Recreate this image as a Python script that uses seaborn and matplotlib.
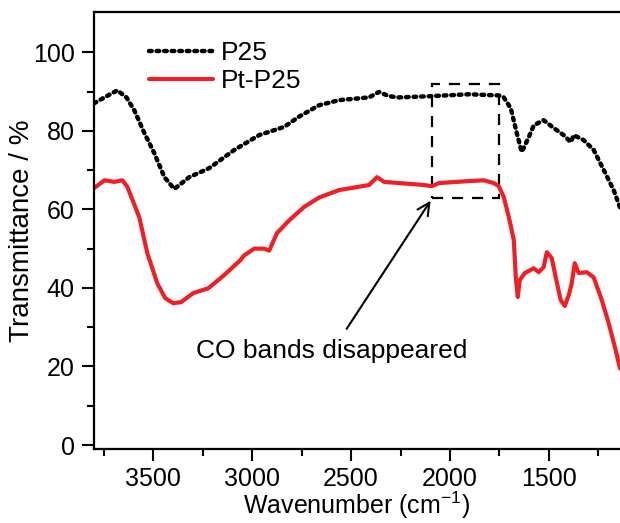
import numpy as np
import pandas as pd
import matplotlib
matplotlib.use("Agg")
import matplotlib.pyplot as plt
import seaborn as sns
from matplotlib.patches import Rectangle

# --- Data ---
p25_wn = [3800, 3747, 3682, 3636, 3596, 3545, 3495, 3444, 3394, 3318, 3217,
          3091, 2965, 2838, 2763, 2662, 2561, 2409, 2359, 2308, 2258, 2106,
          1904, 1753, 1728, 1692, 1662, 1637, 1601, 1576, 1526, 1475, 1425,
          1389, 1374, 1323, 1273, 1222, 1172, 1140]
p25_t = [87.0, 88.5, 90.3, 88.5, 85.2, 79.4, 74.3, 68.2, 65.2, 68.2, 70.5,
         75.1, 78.9, 81.0, 83.6, 86.5, 87.8, 88.5, 89.9, 88.8, 88.5, 88.8,
         89.3, 89.0, 88.5, 85.7, 79.4, 74.6, 78.4, 81.4, 82.7, 80.7, 78.9,
         77.1, 78.9, 77.6, 75.1, 70.0, 64.9, 60.5]

pt_wn = [3800, 3747, 3697, 3656, 3631, 3571, 3530, 3480, 3440, 3399, 3359,
         3298, 3222, 3141, 3061, 3040, 2990, 2940, 2914, 2874, 2813, 2738,
         2662, 2561, 2409, 2369, 2333, 2258, 2131, 2091, 2056, 1904, 1829,
         1778, 1753, 1728, 1702, 1677, 1667, 1657, 1647, 1621, 1576, 1551,
         1526, 1510, 1485, 1465, 1440, 1419, 1399, 1384, 1369, 1349, 1308,
         1273, 1232, 1197, 1162, 1140]
pt_t = [65.4, 67.4, 67.0, 67.4, 65.7, 58.0, 48.8, 41.2, 37.4, 36.1, 36.4,
        38.7, 39.9, 43.3, 47.0, 48.3, 50.0, 50.0, 49.5, 54.0, 57.2, 60.6,
        63.0, 64.9, 66.2, 68.2, 67.0, 66.7, 66.2, 65.9, 66.7, 67.2, 67.4,
        66.7, 65.9, 63.2, 58.0, 52.2, 42.7, 37.7, 42.0, 43.8, 45.0, 44.0,
        45.3, 49.1, 47.6, 42.7, 36.9, 35.4, 38.2, 41.2, 46.3, 43.8, 44.0,
        42.7, 36.9, 31.0, 24.2, 19.5]

df_p25 = pd.DataFrame({"wn": p25_wn, "T": p25_t})
df_pt = pd.DataFrame({"wn": pt_wn, "T": pt_t})

sns.set_style("ticks")
plt.rcParams['font.family'] = ['Liberation Sans', 'DejaVu Sans']
plt.rcParams['mathtext.fontset'] = 'custom'
plt.rcParams['mathtext.rm'] = 'Liberation Sans'
plt.rcParams['text.color'] = 'black'
plt.rcParams['axes.labelcolor'] = 'black'

fig = plt.figure(figsize=(6.2, 5.23), dpi=100)
ax = fig.add_axes([0.1516, 0.1415, 0.8484, 0.836])

sns.lineplot(data=df_p25, x="wn", y="T", ax=ax, color="black", lw=3.2,
             linestyle=(0, (0.6, 1.1)), label="P25", sort=False)
ax.lines[-1].set_dash_capstyle("round")
sns.lineplot(data=df_pt, x="wn", y="T", ax=ax, color="#ee1f25", lw=3,
             label="Pt-P25", sort=False)

ax.set_xlim(3800, 1140)
ax.set_ylim(-1, 110.3)
ax.set_xticks([3500, 3000, 2500, 2000, 1500])
ax.set_xticks([3750, 3250, 2750, 2250, 1750, 1250], minor=True)
ax.set_yticks([0, 20, 40, 60, 80, 100])
ax.set_yticks([10, 30, 50, 70, 90], minor=True)
ax.tick_params(axis="both", which="major", direction="out", length=8.5,
               width=1.5, colors="black")
ax.tick_params(axis="both", which="minor", direction="out", length=5,
               width=1.5, colors="black")
ax.tick_params(axis="y", which="major", labelsize=18, pad=5.5)
ax.tick_params(axis="x", which="major", labelsize=18, pad=4.5)
for side in ["left", "bottom", "top"]:
    ax.spines[side].set_linewidth(1.6)
    ax.spines[side].set_color("black")
ax.spines["right"].set_visible(False)

ax.set_xlabel("Wavenumber (cm$^{\\mathregular{-1}}$)", fontsize=18, labelpad=-1)
ax.set_ylabel("Transmittance / %", fontsize=20, labelpad=-2)

# dashed box around the CO region and arrow annotation
ax.add_patch(Rectangle((2090, 62.8), 1753 - 2090, 91.9 - 62.8, fill=False,
                       ls=(0, (5, 4)), lw=1.6, ec="black"))
ax.annotate("", xy=(2090, 62.8), xytext=(2530, 29),
            arrowprops=dict(arrowstyle="->", lw=1.5, color="black",
                            mutation_scale=22))
ax.text(2600, 24, "CO bands disappeared", fontsize=19, ha="center",
        va="center", color="black")

leg = ax.legend(loc="upper left", bbox_to_anchor=(0.07, 0.975), frameon=False,
                fontsize=19, handlelength=2.4, handletextpad=0.3,
                labelspacing=0.15, borderaxespad=0.3)
for t in leg.get_texts():
    t.set_color("black")

fig.savefig("out.png", dpi=100)
